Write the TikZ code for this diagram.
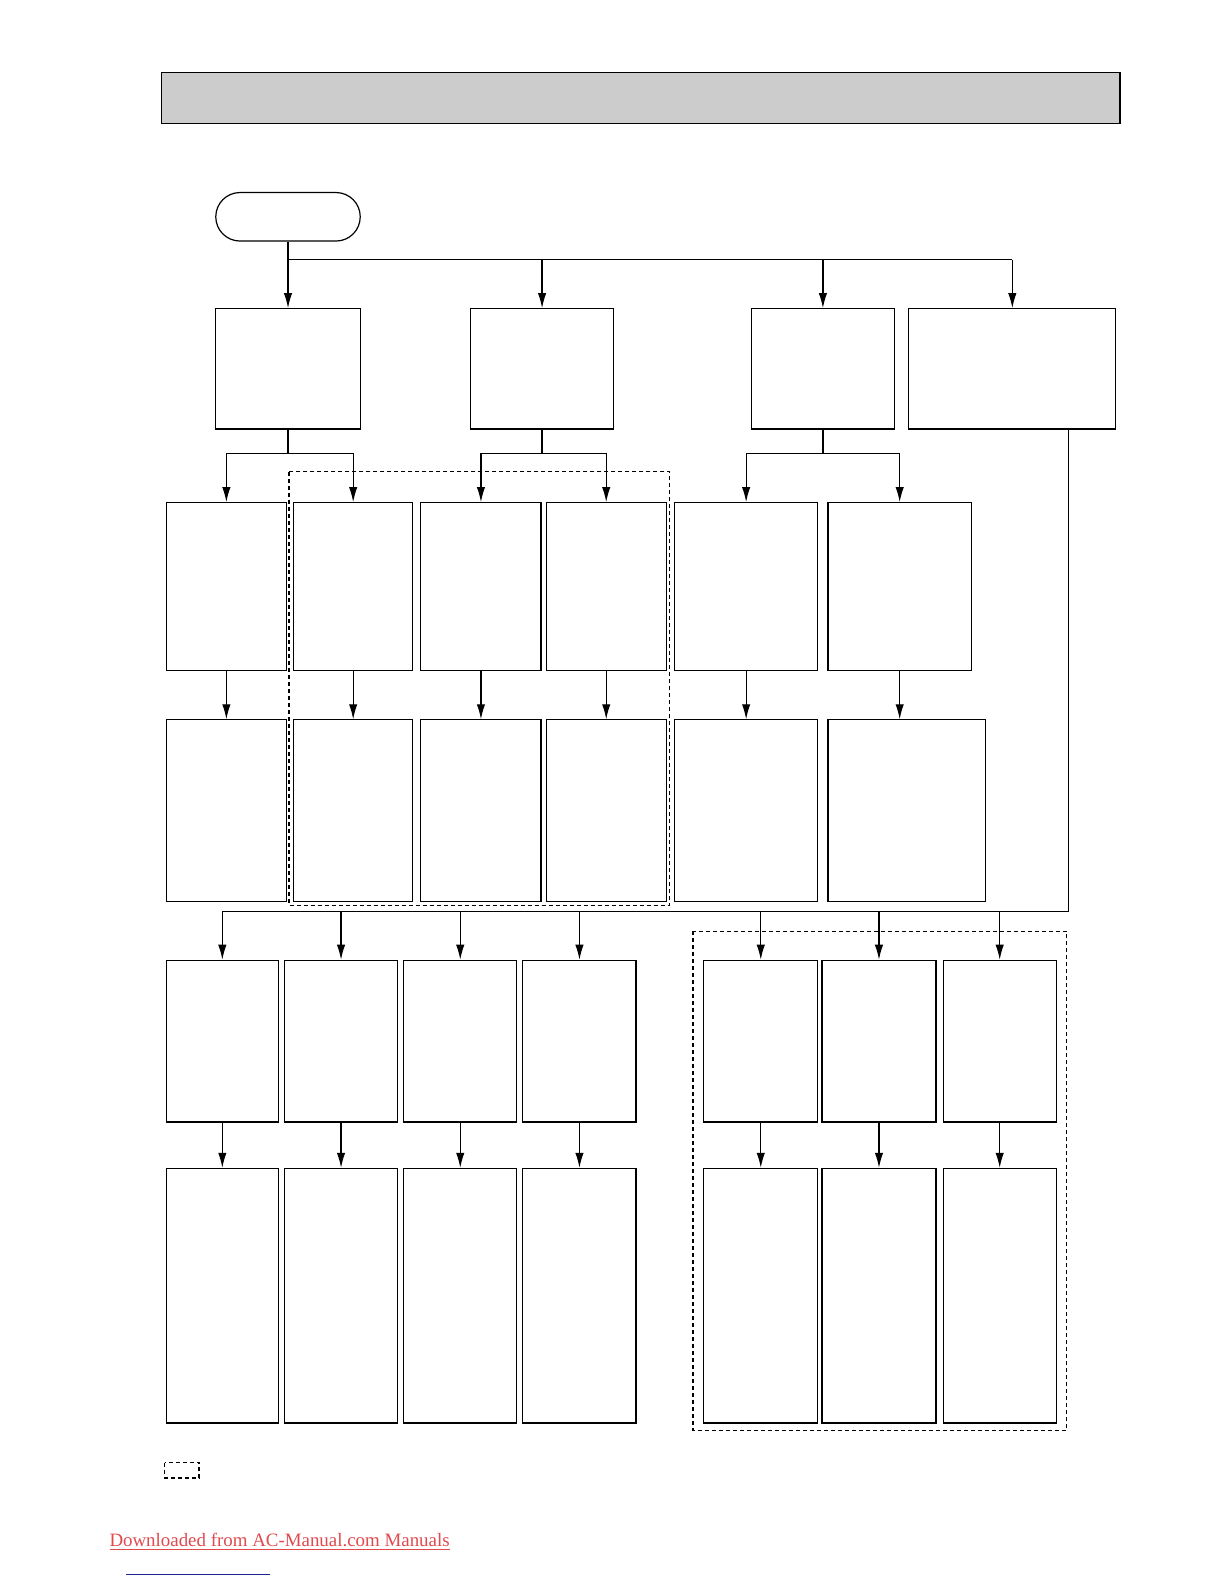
\documentclass[tikz,border=0pt]{standalone}
\usepackage{fontspec}
\setmainfont{Liberation Serif}
\usetikzlibrary{arrows.meta}
\definecolor{linkred}{HTML}{E04A4E}
\definecolor{linkblue}{HTML}{1C2494}
\tikzset{
  box/.style={draw, line width=0.6pt, inner sep=0pt, anchor=north west},
  arr/.style={-{Latex[length=7.5pt,width=4.2pt]}, line width=0.6pt},
  line/.style={line width=0.6pt},
  group/.style={draw, line width=0.6pt, dash pattern=on 2pt off 1.5pt}
}
\begin{document}
\begin{tikzpicture}[x=0.5051pt,y=-0.5051pt]
\useasboundingbox (0,0) rectangle (1211.6,1568);

% title bar and start
\node[box, fill=black!20, minimum width={949*0.5051pt}, minimum height={51*0.5051pt}] (title) at (159,71) {};
\node[box, rounded corners=12.1pt, minimum width={143*0.5051pt}, minimum height={48*0.5051pt}] (start) at (213,190) {};

% first level
\foreach \n/\xa/\xb in {a/213/356, b/465/607, c/743/885, d/899/1104}
    \node[box, minimum width={(\xb-\xa)*0.5051pt}, minimum height={119*0.5051pt}] (top\n) at (\xa,305) {};

\draw[line] (start.south) |- (topd.north |- 0,257);
\foreach \n in {a,b,c,d}
    \draw[arr] (top\n.north |- 0,257) -- (top\n.north);

% second and third level
\foreach \n/\xa/\xb in {a/164/283, b/290/408, c/416/535, d/540/659, e/667/809, f/819/961}
    \node[box, minimum width={(\xb-\xa)*0.5051pt}, minimum height={166*0.5051pt}] (mid\n) at (\xa,497) {};
\foreach \n/\xa/\xb in {a/164/283, b/290/408, c/416/535, d/540/659, e/667/809, f/819/975}
    \node[box, minimum width={(\xb-\xa)*0.5051pt}, minimum height={180*0.5051pt}] (low\n) at (\xa,712) {};

\foreach \t/\l/\r in {a/a/b, b/c/d, c/e/f} {
    \draw[line] (top\t.south) -- (top\t.south |- 0,449);
    \draw[arr] (top\t.south |- 0,449) -| (mid\l.north);
    \draw[arr] (top\t.south |- 0,449) -| (mid\r.north);
}
\foreach \n in {a,b,c,d,e,f}
    \draw[arr] (mid\n.south) -- (mid\n.south |- low\n.north);

% fourth and fifth level
\foreach \n/\xa/\xb in {a/164/275, b/281/393, c/399/511, d/517/629, e/696/809, f/813/926, g/933/1045} {
    \node[box, minimum width={(\xb-\xa)*0.5051pt}, minimum height={160*0.5051pt}] (sub\n) at (\xa,950) {};
    \node[box, minimum width={(\xb-\xa)*0.5051pt}, minimum height={252*0.5051pt}] (res\n) at (\xa,1156) {};
}

\draw[line] (topd.south -| 1058,0) |- (suba.north |- 0,902);
\foreach \n in {a,b,c,d,e,f,g} {
    \draw[arr] (sub\n.north |- 0,902) -- (sub\n.north);
    \draw[arr] (sub\n.south) -- (res\n.north);
}

% dashed groups and key
\draw[group] (286,467) rectangle (663,896);
\draw[group] (686,922) rectangle (1056,1416);
\draw[group] (163,1448) rectangle (197,1463);

% footer
\node[anchor=base west, inner sep=0pt, text=linkred, font=\fontsize{9.45}{11}\selectfont] (link) at (108,1531)
    {\underline{Downloaded from AC-Manual.com Manuals}};
\draw[linkblue, line width=0.5pt] (125,1559) -- (267,1559);
\end{tikzpicture}
\end{document}
